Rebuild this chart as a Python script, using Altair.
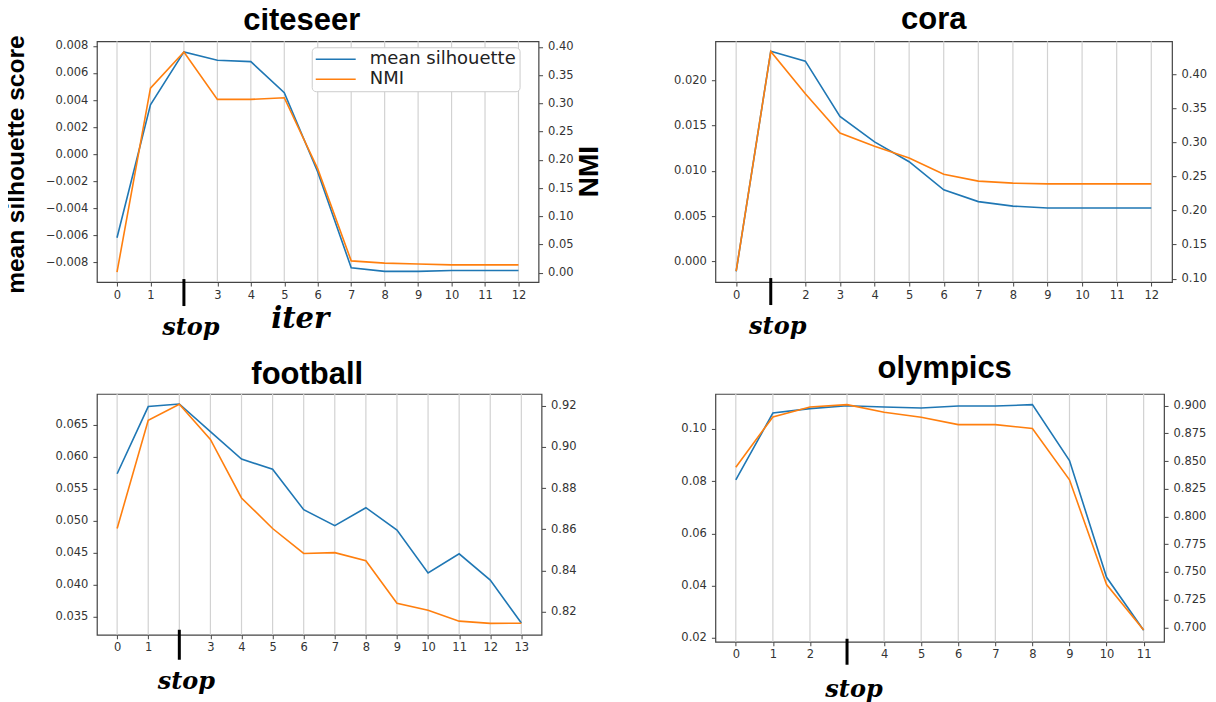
import altair as alt
import pandas as pd

# ---------------- data ----------------
SERIES = ["mean silhouette", "NMI"]
COLORS = ["#1f77b4", "#ff7f0e"]

citeseer_iter = list(range(13))
citeseer_sil = [-0.0062, 0.00365, 0.00756, 0.00694, 0.00684, 0.00454, -0.00133,
                -0.00842, -0.00869, -0.00869, -0.00862, -0.00862, -0.00862]
citeseer_nmi = [0.001, 0.327, 0.391, 0.307, 0.307, 0.310, 0.184, 0.021, 0.017,
                0.0154, 0.014, 0.014, 0.014]
citeseer_stop = 2

cora_iter = list(range(13))
cora_sil = [-0.0011, 0.0232, 0.0221, 0.0160, 0.0132, 0.0110, 0.0079, 0.0066,
            0.0061, 0.0059, 0.0059, 0.0059, 0.0059]
cora_nmi = [0.111, 0.433, 0.371, 0.3135, 0.294, 0.277, 0.253, 0.243, 0.240,
            0.239, 0.239, 0.239, 0.239]
cora_stop = 1

football_iter = list(range(14))
football_sil = [0.0573, 0.0678, 0.0682, 0.0639, 0.0596, 0.0580, 0.0517, 0.0492,
                0.0520, 0.0485, 0.0418, 0.0448, 0.0407, 0.0340]
football_nmi = [0.8604, 0.9128, 0.9206, 0.9036, 0.8752, 0.8604, 0.8483, 0.8487,
                0.8448, 0.8242, 0.8208, 0.8155, 0.8144, 0.8145]
football_stop = 2

olympics_iter = list(range(12))
olympics_sil = [0.0805, 0.1061, 0.1078, 0.1089, 0.1084, 0.1080, 0.1088, 0.1088,
                0.1093, 0.0879, 0.0432, 0.0229]
olympics_nmi = [0.8445, 0.8898, 0.8988, 0.9009, 0.8940, 0.8895, 0.8829, 0.8829,
                0.8793, 0.8331, 0.7387, 0.6976]
olympics_stop = 3

citeseer_sil_ticks = [-0.008, -0.006, -0.004, -0.002, 0.0, 0.002, 0.004, 0.006, 0.008]
citeseer_nmi_ticks = [0.0, 0.05, 0.10, 0.15, 0.20, 0.25, 0.30, 0.35, 0.40]
cora_sil_ticks = [0.0, 0.005, 0.010, 0.015, 0.020]
cora_nmi_ticks = [0.10, 0.15, 0.20, 0.25, 0.30, 0.35, 0.40]
football_sil_ticks = [0.035, 0.040, 0.045, 0.050, 0.055, 0.060, 0.065]
football_nmi_ticks = [0.82, 0.84, 0.86, 0.88, 0.90, 0.92]
olympics_sil_ticks = [0.02, 0.04, 0.06, 0.08, 0.10]
olympics_nmi_ticks = [0.700, 0.725, 0.750, 0.775, 0.800, 0.825, 0.850, 0.875, 0.900]

color_scale = alt.Scale(domain=SERIES, range=COLORS)
legend = alt.Legend(
    title=None, orient="none", legendX=215, legendY=6, symbolType="M-4,0H4",
    symbolSize=100, symbolStrokeWidth=1.6, symbolOffset=12,
    labelFont="DejaVu Sans", labelFontSize=18, labelColor="#222",
    labelOffset=25, rowPadding=2, fillColor="white", strokeColor="#cccccc",
    cornerRadius=4, padding=3, labelLimit=400,
)

SERIF = "DejaVu Serif"
SANS_B = "Liberation Sans"


def panel(name, iters, sil, nmi, stop, width, height, xdom, sil_dom, sil_ticks,
          sil_fmt, nmi_dom, nmi_ticks, nmi_fmt, title_offset, title_dx,
          rule_y, text_y, left_title=None, right_title=None, x_title=None):
    df = pd.DataFrame({"iter": iters, "sil": sil, "nmi": nmi})
    xscale = alt.Scale(domain=xdom, nice=False, zero=False)
    base = alt.Chart(df)

    xaxis_kw = dict(values=[i for i in iters if i != stop], format="d",
                    grid=False, domain=False, tickSize=4, labelPadding=3,
                    title=x_title)
    if x_title:
        xaxis_kw.update(titleFont=SERIF, titleFontSize=29, titleFontWeight="bold",
                        titleFontStyle="italic", titleX=203, titleY=45,
                        titleBaseline="alphabetic", titleAlign="center",
                        titleColor="black")
    xaxis = alt.Axis(**xaxis_kw)
    X = alt.X("iter:Q", scale=xscale, axis=xaxis)

    lax_kw = dict(orient="left", values=sil_ticks, format=sil_fmt, grid=False,
                  domain=False, tickSize=4, labelPadding=5, title=left_title)
    if left_title:
        lax_kw.update(titleFont=SANS_B, titleFontSize=24.5, titleFontWeight="bold",
                      titleAngle=270, titleX=-73, titleY=123, titleAlign="center",
                      titleBaseline="alphabetic", titleColor="black")
    rax_kw = dict(orient="right", values=nmi_ticks, format=nmi_fmt, grid=False,
                  domain=False, tickSize=4, labelPadding=5, title=right_title)
    if right_title:
        rax_kw.update(titleFont=SANS_B, titleFontSize=28, titleFontWeight="bold",
                      titleAngle=270, titleX=59, titleY=130, titleAlign="center",
                      titleBaseline="alphabetic", titleColor="black")

    grid = base.mark_rule(color="#d2d2d2", strokeWidth=1.2).encode(x=X)

    sil_line = base.transform_calculate(series="'mean silhouette'").mark_line(
        strokeWidth=1.6).encode(
        x=X,
        y=alt.Y("sil:Q", scale=alt.Scale(domain=sil_dom, nice=False, zero=False),
                axis=alt.Axis(**lax_kw)),
        color=alt.Color("series:N", scale=color_scale, legend=legend),
    )
    nmi_line = base.transform_calculate(series="'NMI'").mark_line(
        strokeWidth=1.6).encode(
        x=X,
        y=alt.Y("nmi:Q", scale=alt.Scale(domain=nmi_dom, nice=False, zero=False),
                axis=alt.Axis(**rax_kw)),
        color=alt.Color("series:N", scale=color_scale, legend=legend),
    )

    stop_df = pd.DataFrame({"iter": [stop], "label": ["stop"]})
    stop_rule = alt.Chart(stop_df).mark_rule(color="black", strokeWidth=3).encode(
        x=X, y=alt.value(height + rule_y[0]), y2=alt.value(height + rule_y[1]))
    stop_text = alt.Chart(stop_df).mark_text(
        font=SERIF, fontSize=24, fontWeight="bold", fontStyle="italic",
        baseline="alphabetic", align="center", dx=7, color="black").encode(
        x=X, y=alt.value(height + text_y), text="label:N")

    return alt.layer(grid, sil_line, nmi_line, stop_rule, stop_text).resolve_scale(
        y="independent").properties(
        width=width, height=height,
        title=alt.TitleParams(text=name, font=SANS_B, fontSize=31,
                              fontWeight="bold", color="black", offset=title_offset,
                              dx=title_dx, anchor="middle", frame="group"))


A = panel("citeseer", citeseer_iter, citeseer_sil, citeseer_nmi, citeseer_stop,
          442, 241, [-0.6, 12.6], [-0.00948, 0.00835], citeseer_sil_ticks, ".3f",
          [-0.0165, 0.41], citeseer_nmi_ticks, ".2f", -2, -16, (-3, 24), 53,
          left_title="mean silhouette score", right_title="NMI", x_title="iter")
B = panel("cora", cora_iter, cora_sil, cora_nmi, cora_stop,
          457, 241, [-0.6, 12.6], [-0.00228, 0.0243], cora_sil_ticks, ".3f",
          [0.095, 0.448], cora_nmi_ticks, ".2f", 5, -10, (-4, 23), 52)
C = panel("football", football_iter, football_sil, football_nmi, football_stop,
          445, 241, [-0.65, 13.65], [0.03215, 0.06977], football_sil_ticks, ".3f",
          [0.8089, 0.9256], football_nmi_ticks, ".2f", 2, -12, (-5, 25), 54)
D = panel("olympics", olympics_iter, olympics_sil, olympics_nmi, olympics_stop,
          449, 248, [-0.55, 11.55], [0.0185, 0.1134], olympics_sil_ticks, ".2f",
          [0.6871, 0.9105], olympics_nmi_ticks, ".3f", 8, 5, (-3, 23), 55)

chart = alt.concat(
    A, B, C, D, columns=2, spacing={"row": 112, "column": 174},
    bounds="flush", align="each",
).properties(
    padding={"left": -5, "top": -6, "right": 0, "bottom": 0}
).configure_view(
    stroke="#444444", strokeWidth=1.2
).configure_axis(
    labelFont="DejaVu Sans", labelFontSize=11.5, labelColor="#333333",
    tickColor="#444444", tickWidth=1
)

chart.save("out.html", embed_options={"renderer": "svg", "actions": False})
